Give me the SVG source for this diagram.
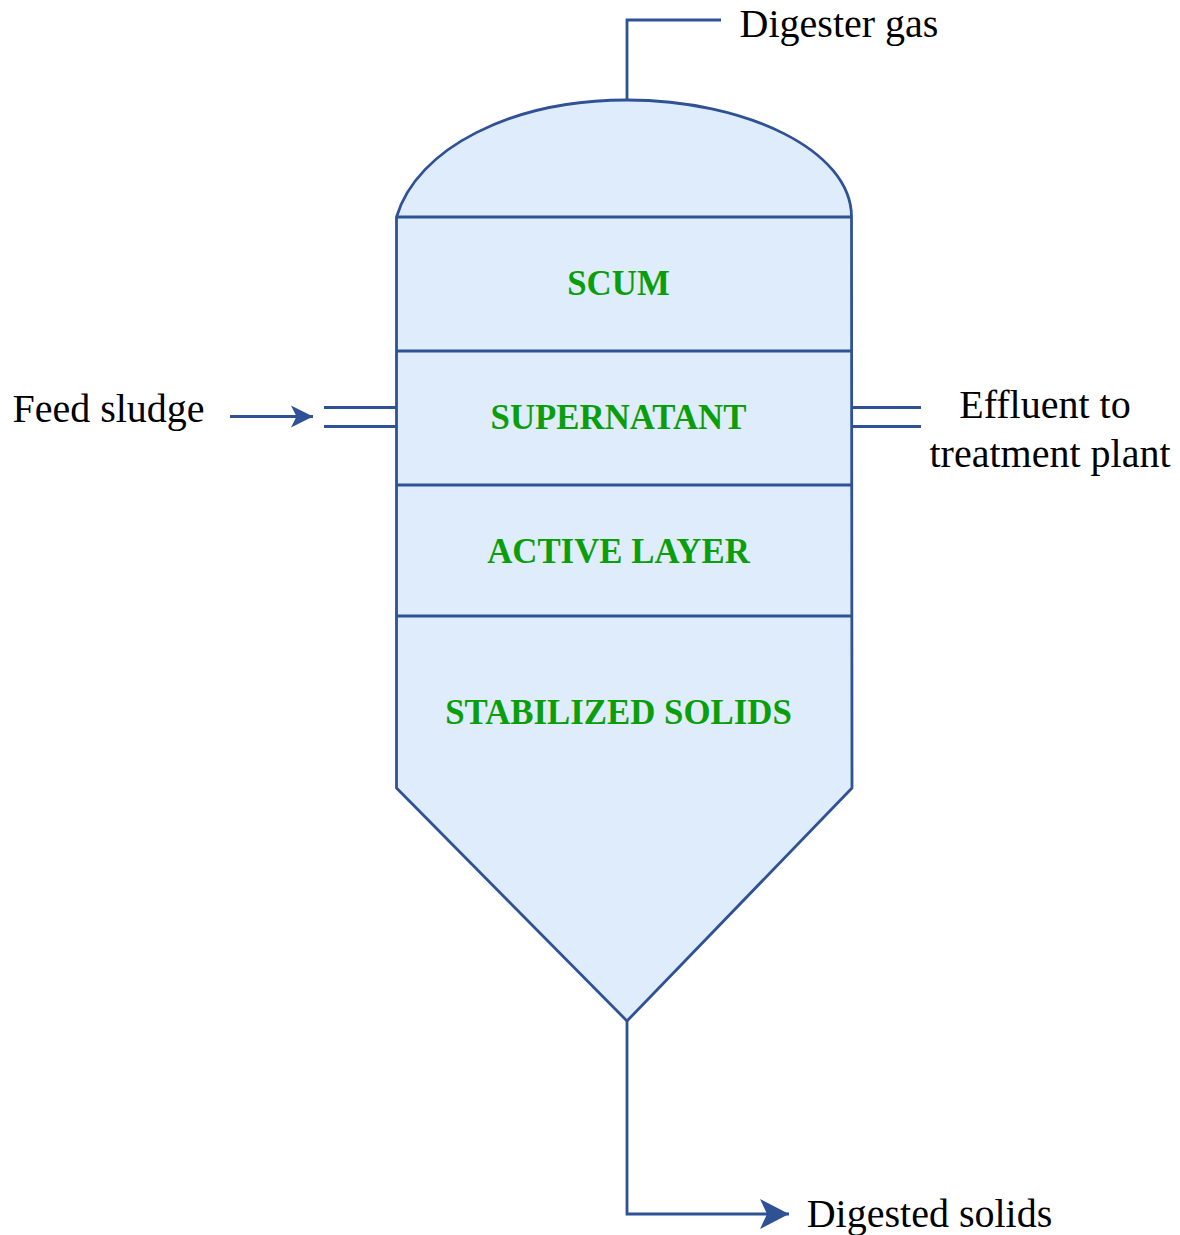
<svg xmlns="http://www.w3.org/2000/svg" width="1180" height="1235" viewBox="0 0 1180 1235">
<style>
.s{fill:#dfecfb;stroke:#2f5296;stroke-width:2.800;stroke-linejoin:round}
.c{fill:none;stroke:#2f5296;stroke-width:2.800}
.l{font-family:"Liberation Serif",serif;font-size:40px;fill:#000;text-anchor:middle}
.g{font-family:"Liberation Serif",serif;font-size:34.800px;font-weight:bold;fill:#0a9e0a;text-anchor:middle}
</style>
<defs>
<marker id="a1" markerUnits="userSpaceOnUse" markerWidth="24" markerHeight="24" refX="22" refY="12" orient="auto" viewBox="0 0 24 24"><path d="M0 1L22 12L0 23L5.500 12Z" fill="#2f5296"/></marker>
<marker id="a2" markerUnits="userSpaceOnUse" markerWidth="30" markerHeight="32" refX="29" refY="16" orient="auto" viewBox="0 0 30 32"><path d="M0 1L29 16L0 31L7 16Z" fill="#2f5296"/></marker>
</defs>
<g id="digester">
<path class="s" d="M396.500 217C417 148 512 100 627 100C745 100 851.500 150 851.500 217L852 788L627 1021L396.500 788Z"/>
<path class="c" d="M396.500 217H852M396.500 351H852M396.500 485H852M396.500 616H852"/>
</g>
<g id="connectors">
<path class="c" d="M721 20H627V100"/>
<path class="c" d="M230 416.500H313" marker-end="url(#a1)"/>
<path class="c" d="M324 407.500H396.500M324 426.500H396.500M852 407.500H921M852 426.500H921"/>
<path class="c" d="M627 1021V1214H789" marker-end="url(#a2)"/>
</g>
<g id="layers">
<text class="g" x="618.500" y="295">SCUM</text>
<text class="g" x="618.500" y="429">SUPERNATANT</text>
<text class="g" x="618.500" y="563">ACTIVE LAYER</text>
<text class="g" x="618.500" y="724">STABILIZED SOLIDS</text>
</g>
<g id="labels">
<text class="l" x="839" y="37">Digester gas</text>
<text class="l" x="108.500" y="422">Feed sludge</text>
<text class="l" x="1045" y="418">Effluent to</text>
<text class="l" x="1050" y="467">treatment plant</text>
<text class="l" x="929.500" y="1227">Digested solids</text>
</g>
</svg>
